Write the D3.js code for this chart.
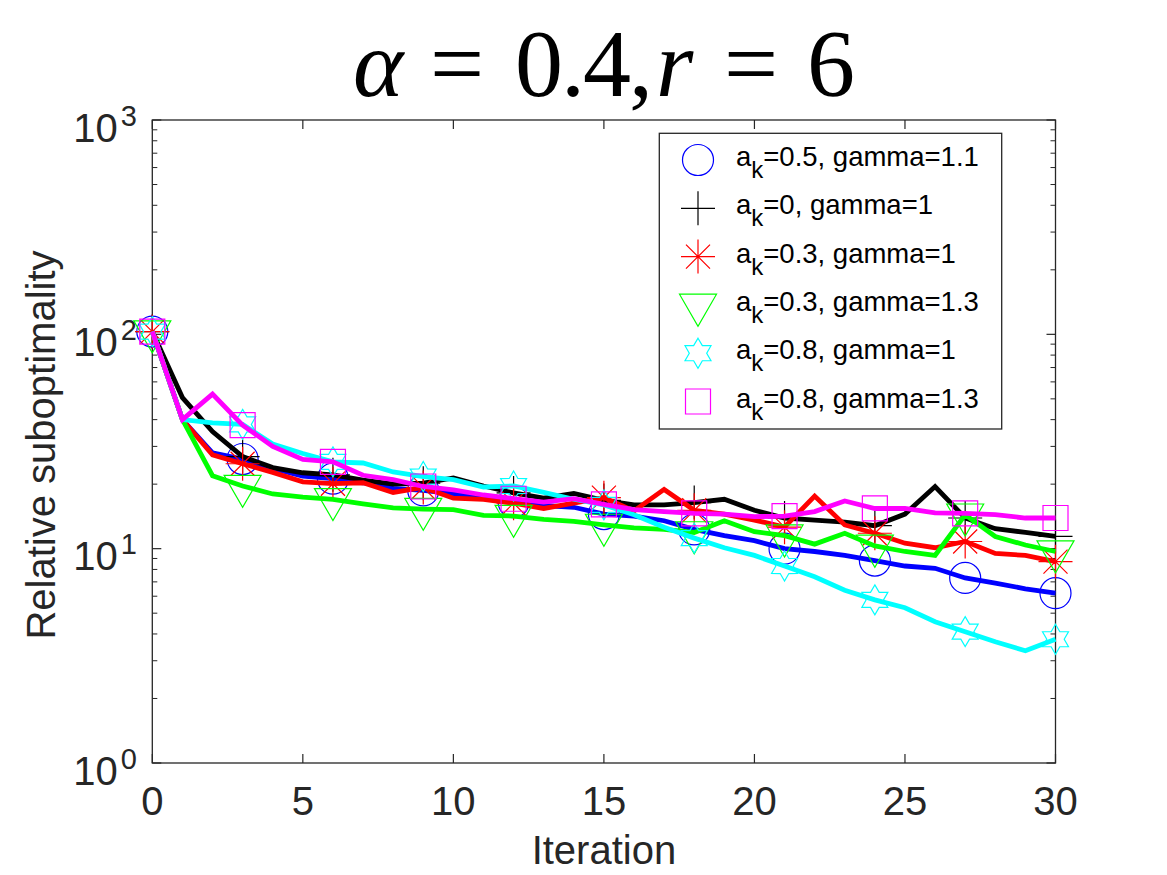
<!DOCTYPE html>
<head>
  <meta charset='utf-8'>
  <script src='https://d3js.org/d3.v7.min.js'></script>
  <style>
    body { margin: 0; background: #fff; }
    svg { display: block; }
    text { fill: #262626; font-family: 'Liberation Sans', Arial, sans-serif; }
  </style>
</head>

<body>
  <script>

// ---- data ----
const iterations = [0, 1, 2, 3, 4, 5, 6, 7, 8, 9, 10, 11, 12, 13, 14, 15, 16, 17, 18, 19, 20, 21, 22, 23, 24, 25, 26, 27, 28, 29, 30];

const ak05g11 = [103, 40, 28, 26.2, 23.7, 21.8, 21.2, 20.3, 19.1, 18.7, 18.0, 17.2, 16.5, 15.9, 15.6, 14.5, 14.2, 13.5, 12.3, 11.5, 10.9, 10.0, 9.7, 9.3, 8.8, 8.3, 8.1, 7.3, 6.9, 6.5, 6.2];
const ak0g1   = [103, 50.7, 35.2, 26.9, 23.9, 22.6, 22.1, 20.9, 20.0, 20.2, 21.4, 19.6, 18.2, 17.2, 18.1, 16.8, 16.0, 16.0, 16.4, 17.0, 15.1, 13.9, 13.6, 13.3, 12.8, 14.5, 19.5, 13.9, 12.4, 11.9, 11.4];
const ak03g1  = [103, 40, 27.4, 24.9, 22.7, 20.5, 20.1, 20.3, 18.3, 19.3, 17.2, 17.0, 16.3, 15.4, 16.3, 17.3, 15.0, 18.9, 15.1, 14.5, 13.6, 12.6, 17.6, 12.9, 11.8, 10.6, 10.1, 10.8, 9.5, 9.3, 8.7];
const ak03g13 = [103, 40, 21.9, 19.6, 18.0, 17.4, 17.0, 16.2, 15.5, 15.3, 15.2, 14.3, 14.2, 13.7, 13.4, 12.9, 12.5, 12.3, 11.9, 13.5, 12.0, 11.5, 10.5, 11.8, 10.3, 9.7, 9.3, 14.4, 11.4, 10.4, 9.7];
const ak08g1  = [103, 40, 38.6, 38.0, 30.8, 27.8, 25.4, 25.1, 22.8, 21.7, 21.0, 19.4, 19.6, 18.3, 17.0, 16.0, 14.4, 12.6, 11.2, 10.1, 9.3, 8.3, 7.4, 6.4, 5.77, 5.3, 4.56, 4.1, 3.68, 3.34, 3.78];
const ak08g13 = [103, 40, 52.6, 37.7, 30.0, 26.1, 25.4, 22.0, 21.0, 19.5, 18.8, 17.8, 17.1, 16.5, 17.1, 16.1, 15.2, 14.9, 14.6, 14.5, 14.1, 14.2, 14.9, 16.7, 15.4, 15.4, 14.7, 14.6, 14.4, 13.9, 13.9];

const legendLabels = [
  ['0.5', '1.1'],
  ['0', '1'],
  ['0.3', '1'],
  ['0.3', '1.3'],
  ['0.8', '1'],
  ['0.8', '1.3']
];
const xTicks = [0, 5, 10, 15, 20, 25, 30];
const yTicks = [1, 10, 100, 1000];
const yExponents = ['0', '1', '2', '3'];

const series = [
  {values: ak05g11, color: '#0000ff', marker: 'circle'},
  {values: ak0g1,   color: '#000000', marker: 'plus'},
  {values: ak03g1,  color: '#ff0000', marker: 'asterisk'},
  {values: ak03g13, color: '#00ff00', marker: 'triangle'},
  {values: ak08g1,  color: '#00ffff', marker: 'hexagram'},
  {values: ak08g13, color: '#ff00ff', marker: 'square'}
];
series.forEach((s, i) => s.label = legendLabels[i]);

const width = 1167,
  height = 875,
  plotLeft = 152.3, plotRight = 1055.5, plotTop = 120, plotBottom = 763;

const svg = d3.select('body').append('svg').attr('width', width).attr('height', height);

const x = d3.scaleLinear().domain([0, 30]).range([plotLeft, plotRight]);
const y = d3.scaleLog().domain([1, 1000]).range([plotBottom, plotTop]);

// marker shapes, centred on 0,0
const markerPath = {
  circle: () => { const p = d3.path(); p.arc(0, 0, 15.5, 0, 2 * Math.PI); return p.toString(); },
  plus: () => 'M-17,0H17M0,-17V17',
  asterisk: () => {
    let d = 'M-17,0H17M0,-17V17';
    const a = 17 * Math.SQRT1_2;
    d += `M${-a},${-a}L${a},${a}M${-a},${a}L${a},${-a}`;
    return d;
  },
  triangle: () => 'M-18.5,-10.7L18.5,-10.7L0,21.3Z',
  hexagram: () => {
    const pts = [];
    for (let k = 0; k < 12; k++) {
      const r = k % 2 === 0 ? 15 : 8.7;
      const ang = -Math.PI / 2 + k * Math.PI / 6;
      pts.push([r * Math.cos(ang), r * Math.sin(ang)]);
    }
    return 'M' + pts.map(p => p.join(',')).join('L') + 'Z';
  },
  square: () => 'M-12.5,-12.5H12.5V12.5H-12.5Z'
};

// title (TeX-like spacing)
const titleParts = [
  {t: 'α', x: 353, it: true},
  {t: '=', x: 430},
  {t: '0.4,', x: 515, ls: -2},
  {t: 'r', x: 656, it: true},
  {t: '=', x: 724},
  {t: '6', x: 807}
];
const title = svg.append('text')
  .attr('y', 95.5)
  .style('font-family', "'Liberation Serif', 'DejaVu Serif', serif")
  .style('font-size', '96px')
  .style('fill', '#000');
titleParts.forEach(p => {
  title.append('tspan').attr('x', p.x)
    .style('font-style', p.it ? 'italic' : 'normal')
    .style('letter-spacing', p.ls ? p.ls + 'px' : null)
    .text(p.t);
});

// frame
svg.append('rect')
  .attr('x', plotLeft).attr('y', plotTop)
  .attr('width', plotRight - plotLeft).attr('height', plotBottom - plotTop)
  .attr('fill', 'none').attr('stroke', '#262626').attr('stroke-width', 1.3);

// x ticks (bottom + top, inside)
const xt = svg.append('g');
xTicks.forEach(t => {
  xt.append('line').attr('x1', x(t)).attr('x2', x(t)).attr('y1', plotBottom).attr('y2', plotBottom - 9)
    .attr('stroke', '#262626').attr('stroke-width', 1.2);
  xt.append('line').attr('x1', x(t)).attr('x2', x(t)).attr('y1', plotTop).attr('y2', plotTop + 9)
    .attr('stroke', '#262626').attr('stroke-width', 1.2);
});
svg.append('g').selectAll('text').data(xTicks).enter().append('text')
  .attr('x', d => x(d)).attr('y', 815)
  .attr('text-anchor', 'middle')
  .style('font-size', '40px')
  .text(d => d);

// y ticks: major + minor (log)
const yt = svg.append('g');
const minor = [];
yTicks.slice(0, -1).forEach(t => { for (let m = 2; m < 10; m++) minor.push(t * m); });
yTicks.forEach(t => {
  yt.append('line').attr('x1', plotLeft).attr('x2', plotLeft + 9).attr('y1', y(t)).attr('y2', y(t))
    .attr('stroke', '#262626').attr('stroke-width', 1.2);
  yt.append('line').attr('x1', plotRight).attr('x2', plotRight - 9).attr('y1', y(t)).attr('y2', y(t))
    .attr('stroke', '#262626').attr('stroke-width', 1.2);
});
minor.forEach(t => {
  yt.append('line').attr('x1', plotLeft).attr('x2', plotLeft + 5).attr('y1', y(t)).attr('y2', y(t))
    .attr('stroke', '#262626').attr('stroke-width', 1);
  yt.append('line').attr('x1', plotRight).attr('x2', plotRight - 5).attr('y1', y(t)).attr('y2', y(t))
    .attr('stroke', '#262626').attr('stroke-width', 1);
});
const ylab = svg.append('g').selectAll('text').data(yTicks).enter().append('text')
  .attr('x', 137).attr('y', d => y(d) + 21.5)
  .attr('text-anchor', 'end')
  .style('font-size', '40px');
ylab.append('tspan').text('10');
ylab.append('tspan')
  .attr('dx', 3).attr('dy', -16)
  .style('font-size', '29px')
  .text((d, i) => yExponents[i]);

// axis labels
svg.append('text')
  .attr('x', (plotLeft + plotRight) / 2).attr('y', 864)
  .attr('text-anchor', 'middle')
  .style('font-size', '40px')
  .text('Iteration');
svg.append('text')
  .attr('transform', 'translate(55,445) rotate(-90)')
  .attr('text-anchor', 'middle')
  .style('font-size', '40px')
  .text('Relative suboptimality');

// series
const line = d3.line().x((d, i) => x(iterations[i])).y(d => y(d));
const plot = svg.append('g');
series.forEach(s => {
  plot.append('path')
    .datum(s.values)
    .attr('d', line)
    .attr('fill', 'none')
    .attr('stroke', s.color)
    .attr('stroke-width', 4.8)
    .attr('stroke-linejoin', 'miter');
  plot.append('g').selectAll('path')
    .data(iterations.filter(it => it % 3 === 0))
    .enter().append('path')
    .attr('transform', it => `translate(${x(it)},${y(s.values[it])})`)
    .attr('d', markerPath[s.marker]())
    .attr('fill', 'none')
    .attr('stroke', s.color)
    .attr('stroke-width', 1.2);
});

// legend
const lg = svg.append('g');
lg.append('rect')
  .attr('x', 659.3).attr('y', 133.3).attr('width', 342.4).attr('height', 295.7)
  .attr('fill', '#fff').attr('stroke', '#262626').attr('stroke-width', 1.3);
const rows = lg.selectAll('g.row').data(series).enter().append('g')
  .attr('class', 'row')
  .attr('transform', (d, i) => `translate(0,${160 + i * 48.3})`);
rows.append('path')
  .attr('transform', 'translate(698,0)')
  .attr('d', d => markerPath[d.marker]())
  .attr('fill', 'none')
  .attr('stroke', d => d.color)
  .attr('stroke-width', 1.2);
const lt = rows.append('text')
  .attr('x', 736).attr('y', 6)
  .style('font-size', '27.5px')
  .style('fill', '#000');
lt.append('tspan').text('a');
lt.append('tspan').attr('dy', 12).style('font-size', '24px').text('k');
lt.append('tspan').attr('dy', -12).text(d => `=${d.label[0]}, gamma=${d.label[1]}`);

  </script>
</body>
